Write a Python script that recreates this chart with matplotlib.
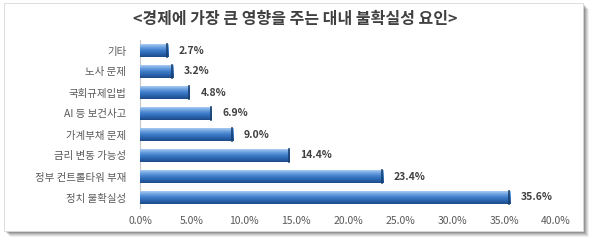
import matplotlib
matplotlib.use("Agg")
import matplotlib.pyplot as plt
import numpy as np
from matplotlib.patches import Rectangle
from matplotlib.colors import LinearSegmentedColormap

plt.rcParams['font.family'] = ['Noto Sans CJK KR', 'DejaVu Sans']

title = "<경제에 가장 큰 영향을 주는 대내 불확실성 요인>"
categories = ["기타", "노사 문제", "국회규제입법", "AI 등 보건사고", "가계부채 문제",
              "금리 변동 가능성", "정부 컨트롤타워 부재", "정치 불확실성"]
values = [2.7, 3.2, 4.8, 6.9, 9.0, 14.4, 23.4, 35.6]
xticks = [0, 5, 10, 15, 20, 25, 30, 35, 40]

fig = plt.figure(figsize=(6.0, 2.46), dpi=100)
fig.patch.set_facecolor("white")

W, H = 600, 246
# shadow
for i, a in enumerate([0.06, 0.08, 0.10, 0.12, 0.14]):
    off = 6 - i
    fig.patches.append(Rectangle(((4 + off) / W, 1 - (231 + off) / H), (583 - 4) / W, (231 - 3) / H,
                                 transform=fig.transFigure, facecolor="black", alpha=a,
                                 edgecolor="none", zorder=-3))
fig.patches.append(Rectangle((4 / W, 1 - 231 / H), (583 - 4) / W, (231 - 3) / H,
                             transform=fig.transFigure, facecolor="white",
                             edgecolor="#d8d8d8", linewidth=0.6, zorder=-2))

fig.text(295 / W, 1 - 19 / H, title, ha="center", va="center", fontsize=11.5,
         color="#404040", fontweight="bold")

ax = fig.add_axes([140 / W, 1 - 208 / H, (556 - 140) / W, (208 - 40) / H])
ax.set_zorder(2)
ax.set_facecolor("none")
y = np.arange(len(categories))
bars = ax.barh(y, values, height=0.58, color="#3d7cc9", edgecolor="none", zorder=2)
ax.set_xlim(0, 40)
ax.set_ylim(len(categories) - 0.5, -0.5)

grad = np.linspace(0, 1, 100).reshape(-1, 1)
cmap = LinearSegmentedColormap.from_list("b", ["#a8cbf3", "#6a9fde", "#3d7cc9", "#2a63ad", "#1d4a86"])
for b in bars:
    x0, y0 = b.get_x(), b.get_y()
    w, h = b.get_width(), b.get_height()
    im = ax.imshow(grad, extent=[x0, x0 + w, y0 + h, y0], aspect="auto", cmap=cmap,
                   zorder=3, interpolation="bilinear")
    im.set_clip_path(b)
    ax.plot([x0 + w - 0.12, x0 + w - 0.12], [y0, y0 + h], color="#17406f", lw=1.2, zorder=4)

for yi, v in zip(y, values):
    ax.text(v + 1.0, yi, f"{v:.1f}%", va="center", ha="left", fontsize=7.5,
            fontweight="bold", color="#404040")

ax.set_yticks(y)
ax.set_yticklabels(categories, fontsize=7.5, color="#595959")
ax.set_xticks(xticks)
ax.set_xticklabels([f"{t:.1f}%" for t in xticks], fontsize=7.5, color="#595959")
ax.tick_params(axis="y", length=0, pad=10)
ax.tick_params(axis="x", length=0, pad=6)
for s in ["top", "right", "bottom"]:
    ax.spines[s].set_visible(False)
ax.spines["left"].set_color("#c8c8c8")
ax.spines["left"].set_linewidth(0.8)

fig.savefig("out.png", dpi=100, facecolor="white")
